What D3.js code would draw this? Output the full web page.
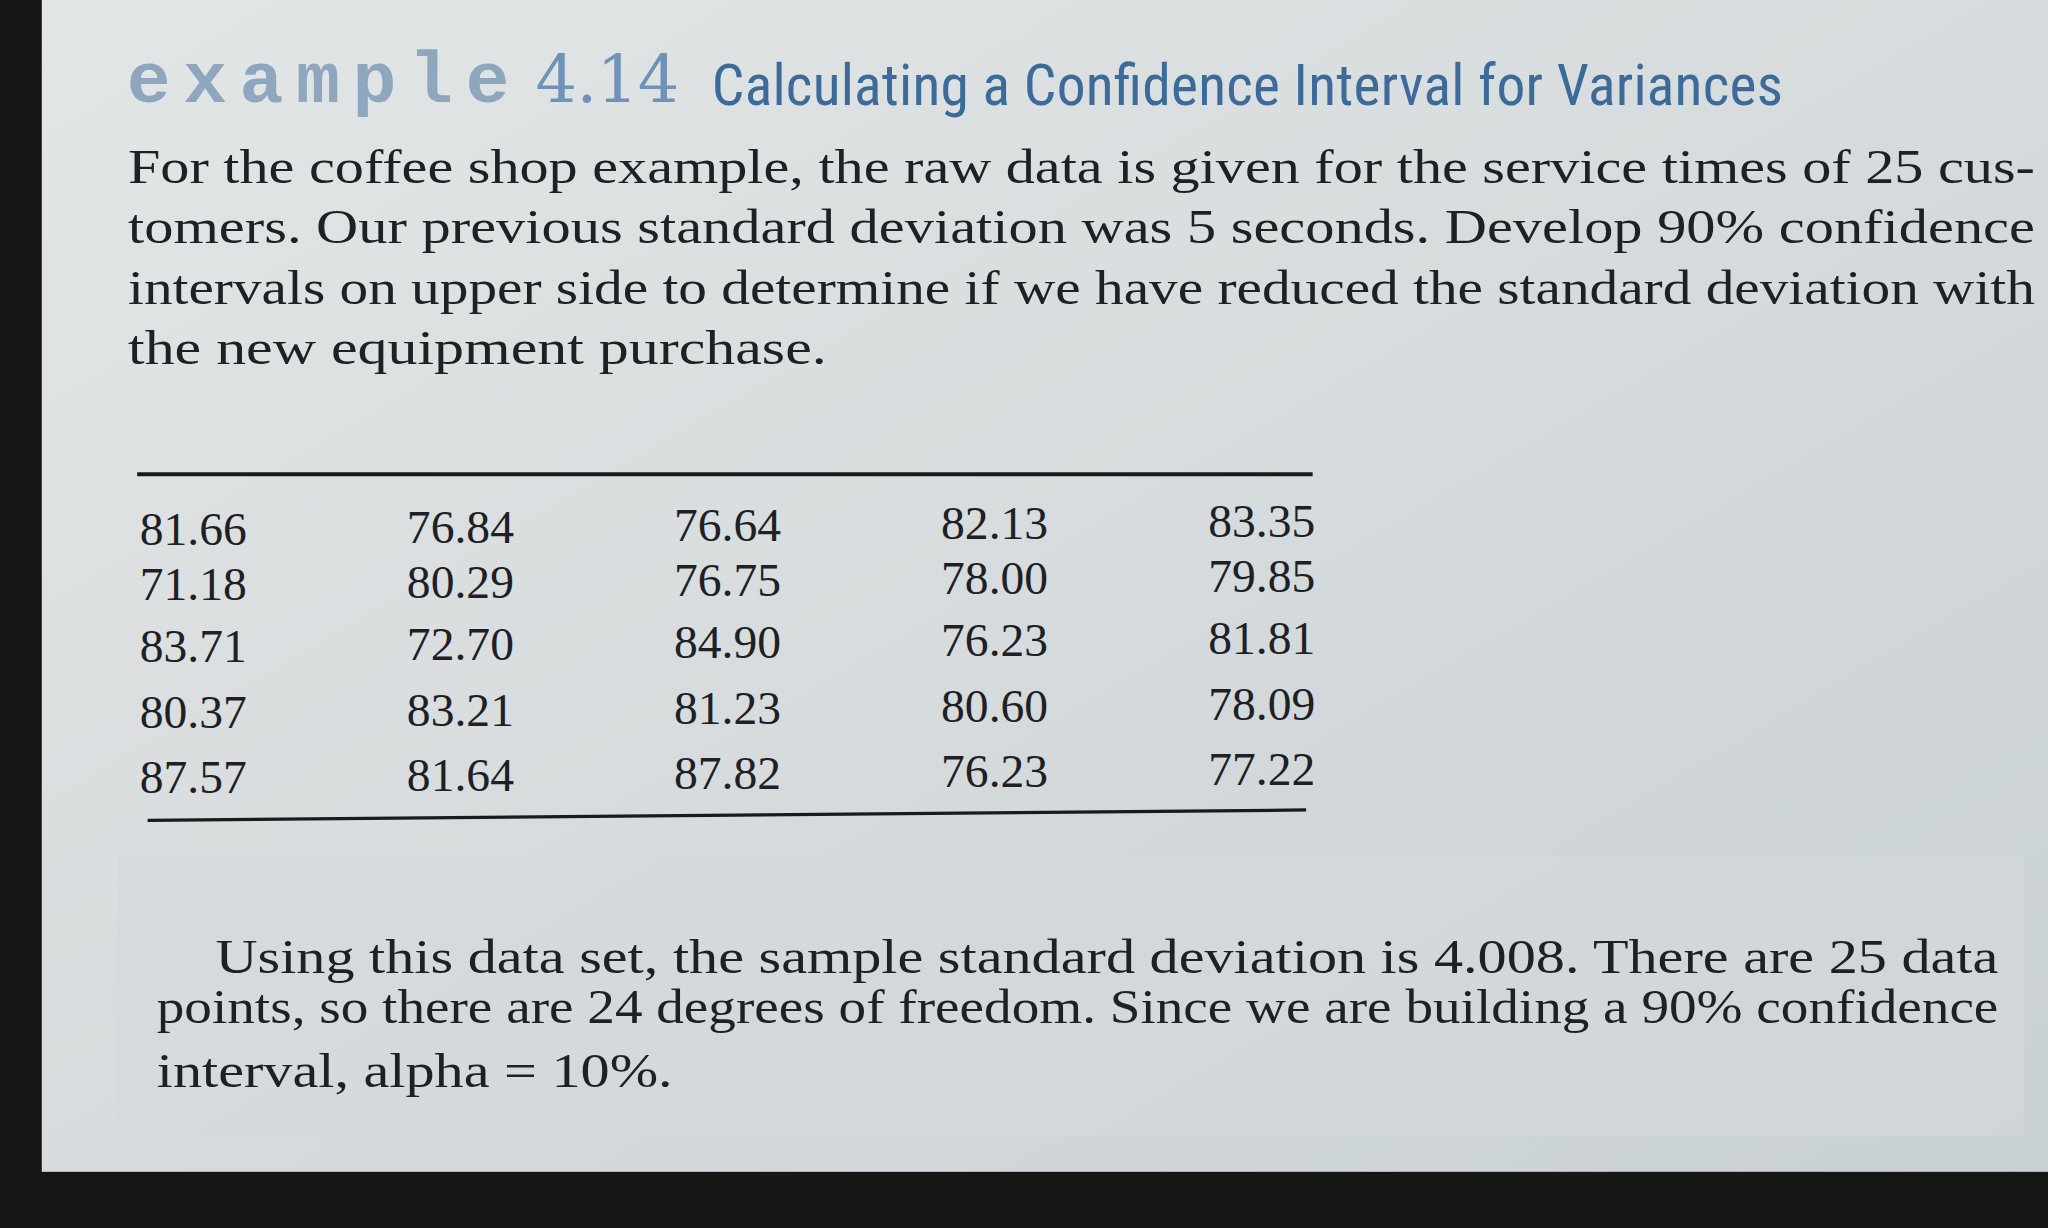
<!DOCTYPE html>
<html><head><meta charset="utf-8">
<script src="https://cdn.jsdelivr.net/npm/d3@7"></script>
<style>html,body{margin:0;padding:0;background:#151515;overflow:hidden}</style>
</head><body>
<script>
const columns = ["c1","c2","c3","c4","c5"];
const rows = ["r1","r2","r3","r4","r5"];
const col1 = ["81.66","71.18","83.71","80.37","87.57"];
const col2 = ["76.84","80.29","72.70","83.21","81.64"];
const col3 = ["76.64","76.75","84.90","81.23","87.82"];
const col4 = ["82.13","78.00","76.23","80.60","76.23"];
const col5 = ["83.35","79.85","81.81","78.09","77.22"];
const colValues = [col1,col2,col3,col4,col5];
const introLines = [
 "For the coffee shop example, the raw data is given for the service times of 25 cus-",
 "tomers. Our previous standard deviation was 5 seconds. Develop 90% confidence",
 "intervals on upper side to determine if we have reduced the standard deviation with",
 "the new equipment purchase."];
const outroLines = [
 "Using this data set, the sample standard deviation is 4.008. There are 25 data",
 "points, so there are 24 degrees of freedom. Since we are building a 90% confidence",
 "interval, alpha = 10%."];

const W=1568,H=940;
const svg=d3.select("body").append("svg").attr("width",2048).attr("height",1228)
 .attr("viewBox",`0 0 ${W} ${H}`).attr("preserveAspectRatio","none");
const g=svg.append("defs").append("linearGradient").attr("id","pg").attr("x1",0).attr("x2",1).attr("y1",0).attr("y2",1);
g.append("stop").attr("offset",0).attr("stop-color","#e3e6e6");
g.append("stop").attr("offset",1).attr("stop-color","#c9d0d4");
svg.append("rect").attr("width",W).attr("height",H).attr("fill","#161616");
svg.append("rect").attr("x",32).attr("y",0).attr("width",W-32).attr("height",897).attr("fill","url(#pg)");
svg.append("rect").attr("x",90).attr("y",655).attr("width",1460).attr("height",215).attr("fill","#d3d9dc").attr("opacity",0.6);

const t=svg.append("text").attr("x",97).attr("y",78);
t.append("tspan").text("example").attr("font-family","Liberation Mono, DejaVu Sans Mono").attr("font-weight","bold").attr("font-size",56).attr("fill","#8fa6bf").attr("textLength",293);
t.append("tspan").text("4.14").attr("x",410).attr("font-family","DejaVu Serif").attr("font-size",50).attr("fill","#6f92b8").attr("textLength",110);
svg.append("text").attr("x",545).attr("y",80).text("Calculating a Confidence Interval for Variances")
 .attr("font-family","Roboto, Liberation Sans Narrow, Liberation Sans").attr("font-stretch","condensed")
 .attr("font-size",44).attr("fill","#3c6b9a").attr("textLength",820);

const ly=d3.scaleLinear().domain([0,3]).range([140,279]);
svg.selectAll(".intro").data(introLines).join("text").attr("x",98).attr("y",(d,i)=>ly(i))
 .text(d=>d).attr("font-family","Liberation Serif, DejaVu Serif").attr("font-size",37).attr("fill","#1d2024")
 .attr("textLength",(d,i)=>i<3?1460:535).attr("lengthAdjust","spacingAndGlyphs");

svg.append("line").attr("x1",105).attr("x2",1005).attr("y1",363).attr("y2",363).attr("stroke","#1a1a1a").attr("stroke-width",3);
svg.append("line").attr("x1",113).attr("x2",1000).attr("y1",628).attr("y2",620).attr("stroke","#1a1a1a").attr("stroke-width",2.5);
const xs=d3.scalePoint().domain(columns).range([107,917]);
const yOff=[417,459,507,557,607];
columns.forEach((c,ci)=>{
 svg.selectAll(".v"+ci).data(colValues[ci]).join("text")
  .attr("x",xs(c)+ci*2).attr("y",(d,i)=>yOff[i]-ci*1.5)
  .text(d=>d).attr("font-family","Liberation Serif, DejaVu Serif").attr("font-size",35).attr("fill","#1d2024")
  .attr("textLength",82).attr("lengthAdjust","spacingAndGlyphs");
});

const oy=[745,783,832], ox=[165,120,120];
svg.selectAll(".out").data(outroLines).join("text").attr("x",(d,i)=>ox[i]).attr("y",(d,i)=>oy[i])
 .text(d=>d).attr("font-family","Liberation Serif, DejaVu Serif").attr("font-size",37).attr("fill","#1d2024")
 .attr("textLength",(d,i)=>[1365,1410,395][i]).attr("lengthAdjust","spacingAndGlyphs");
</script>
</body></html>
